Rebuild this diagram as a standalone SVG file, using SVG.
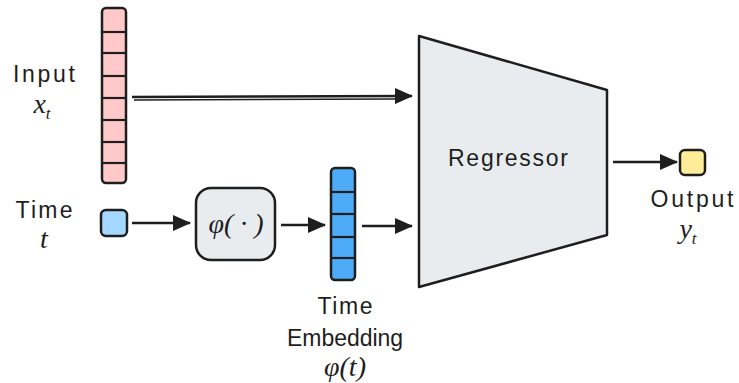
<svg xmlns="http://www.w3.org/2000/svg" width="739" height="383" viewBox="0 0 739 383">
<defs>
<marker id="ah" viewBox="0 0 18 16" refX="17" refY="8" markerWidth="18" markerHeight="16" markerUnits="userSpaceOnUse" orient="auto">
<path d="M0,0 L18,8 L0,16 Z" fill="#1e1e1e"/>
</marker>
<style>
.lbl{font-family:"Liberation Sans",Arial,sans-serif;font-size:23px;fill:#1e1e1e;text-anchor:middle}
.math{font-family:"Liberation Serif","Times New Roman",serif;font-style:italic;font-size:28px;fill:#1e1e1e;text-anchor:middle}
.sub{font-size:17px}
.cell{stroke:#1e1e1e;stroke-width:2.5;stroke-linejoin:round}
.div{stroke:#1e1e1e;stroke-width:2.2}
.conn{stroke:#1e1e1e;stroke-width:2.5;fill:none;marker-end:url(#ah)}
</style>
</defs>
<rect width="739" height="383" fill="#ffffff"/>

<g id="input">
<rect class="cell" x="102" y="8" width="24" height="175" rx="4" fill="#ffc9c9"/>
<line class="div" x1="102" y1="32" x2="126" y2="32"/>
<line class="div" x1="102" y1="53" x2="126" y2="53"/>
<line class="div" x1="102" y1="76" x2="126" y2="76"/>
<line class="div" x1="102" y1="98" x2="126" y2="98"/>
<line class="div" x1="102" y1="120" x2="126" y2="120"/>
<line class="div" x1="102" y1="142" x2="126" y2="142"/>
<line class="div" x1="102" y1="163" x2="126" y2="163"/>
<text class="lbl" x="44" y="82" textLength="62">Input</text>
<text class="math" x="42" y="113">x<tspan class="sub" dy="6">t</tspan></text>
</g>

<g id="time">
<rect class="cell" x="101" y="210" width="26" height="26" rx="5" fill="#a5d8ff"/>
<text class="lbl" x="44" y="218" textLength="57">Time</text>
<text class="math" x="44" y="248">t</text>
</g>

<g id="phi">
<rect class="cell" x="196" y="188" width="79" height="72" rx="15" fill="#e9ecef"/>
<text class="math" x="236" y="233">φ( · )</text>
</g>

<g id="embedding">
<rect class="cell" x="331" y="168" width="24" height="112" rx="4" fill="#4dabf7"/>
<line class="div" x1="331" y1="192" x2="355" y2="192"/>
<line class="div" x1="331" y1="214" x2="355" y2="214"/>
<line class="div" x1="331" y1="237" x2="355" y2="237"/>
<line class="div" x1="331" y1="258" x2="355" y2="258"/>
<text class="lbl" x="345" y="314" textLength="55">Time</text>
<text class="lbl" x="345" y="346" textLength="116">Embedding</text>
<text class="math" x="345" y="376">φ(t)</text>
</g>

<g id="regressor">
<path class="cell" d="M419,36 L607,90 L607,235 L419,287 Z" fill="#e9ecef"/>
<text class="lbl" x="508" y="166" textLength="120">Regressor</text>
</g>

<g id="output">
<rect class="cell" x="680" y="150" width="25" height="25" rx="5" fill="#ffec99"/>
<text class="lbl" x="692" y="207" textLength="83">Output</text>
<text class="math" x="688" y="238">y<tspan class="sub" dy="6">t</tspan></text>
</g>

<g id="connectors">
<path class="conn" d="M132,97 L412,96"/>
<path d="M134,100 L395,99" stroke="#1e1e1e" stroke-width="1.5" fill="none"/>
<path class="conn" d="M132,223 L190,223"/>
<path class="conn" d="M281,225 L325,225"/>
<path class="conn" d="M362,226 L412,226"/>
<path class="conn" d="M613,162 L677,162"/>
</g>
</svg>
